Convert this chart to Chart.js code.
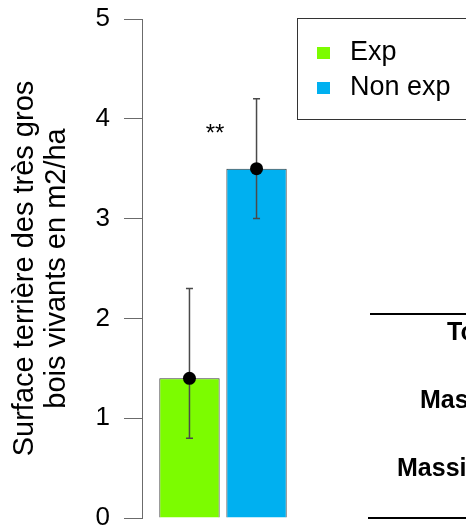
<!DOCTYPE html>
<html>
<head>
<meta charset="utf-8">
<script src="https://cdn.jsdelivr.net/npm/chart.js@4"></script>
<style>
body{margin:0;background:#fff}
</style>
</head>
<body>
<canvas id="graphique" width="466" height="528"></canvas>
<script>
// données : moyenne et intervalle par groupe
const groupes = ["Exp", "Non exp"];
const moyennes = [1.4, 3.5];
const basErreur = [0.8, 3.0];
const hautErreur = [2.3, 4.2];
const couleurs = ["#7CFC00", "#00B0F0"];
const graduations = [0, 1, 2, 3, 4, 5];
const titreAxe = ["Surface terrière des très gros", "bois vivants en m2/ha"];
const significativite = "**";
const lignesTableau = ["Tous", "Massif", "Massif"];

const police = "'Liberation Sans', Arial, sans-serif";

// barres d'erreur + points de moyenne + légende encadrée + début du tableau
const dessinsEnPlus = {
    id: "dessinsEnPlus",
    afterDatasetsDraw(chart) {
        const ctx = chart.ctx;
        const y = chart.scales.y;
        ctx.save();
        chart.data.datasets.forEach((ds, i) => {
            const barre = chart.getDatasetMeta(i).data[0];
            const x = barre.x;
            const yh = y.getPixelForValue(hautErreur[i]);
            const yb = y.getPixelForValue(basErreur[i]);
            ctx.strokeStyle = "#4a4a4a";
            ctx.lineWidth = 1.5;
            ctx.beginPath();
            ctx.moveTo(x, yh); ctx.lineTo(x, yb);
            ctx.moveTo(x - 3.5, yh); ctx.lineTo(x + 3.5, yh);
            ctx.moveTo(x - 3.5, yb); ctx.lineTo(x + 3.5, yb);
            ctx.stroke();
            ctx.fillStyle = "#000";
            ctx.beginPath();
            ctx.arc(x, y.getPixelForValue(moyennes[i]), 6.5, 0, Math.PI * 2);
            ctx.fill();
        });

        // étoiles de significativité
        const b0 = chart.getDatasetMeta(0).data[0];
        const b1 = chart.getDatasetMeta(1).data[0];
        ctx.fillStyle = "#000";
        ctx.font = "24px " + police;
        ctx.textAlign = "center";
        ctx.textBaseline = "alphabetic";
        ctx.fillText(significativite, (b0.x + b1.x) / 2 - 8, y.getPixelForValue(3.78));

        // légende
        ctx.strokeStyle = "#333";
        ctx.lineWidth = 1;
        ctx.strokeRect(297.5, 18.5, 200, 101);
        ctx.font = "27px " + police;
        ctx.textAlign = "left";
        ctx.textBaseline = "middle";
        chart.data.datasets.forEach((ds, i) => {
            const cy = 53 + i * 35;
            ctx.fillStyle = ds.backgroundColor;
            ctx.fillRect(317, cy - 6, 13, 12);
            ctx.fillStyle = "#000";
            ctx.fillText(ds.label, 350, cy);
        });

        // tableau à droite
        ctx.fillStyle = "#000";
        ctx.fillRect(370, 313, 100, 2);
        ctx.fillRect(368, 517, 100, 2);
        ctx.font = "bold 25px " + police;
        ctx.fillText(lignesTableau[0], 447, 333);
        ctx.fillText(lignesTableau[1], 420, 401);
        ctx.fillText(lignesTableau[2], 397, 469);
        ctx.restore();
    }
};

const jeux = groupes.map((g, i) => ({
    label: g,
    data: [moyennes[i]],
    backgroundColor: couleurs[i],
    borderColor: "#3c3c3c",
    borderWidth: 1,
    categoryPercentage: 0.828,
    barPercentage: 0.9
}));

new Chart(document.getElementById("graphique"), {
    type: "bar",
    data: { labels: [""], datasets: jeux },
    options: {
        responsive: false,
        devicePixelRatio: 1,
        animation: false,
        layout: { padding: { top: 19, bottom: 10, left: 0, right: 162 } },
        plugins: { legend: { display: false }, tooltip: { enabled: false } },
        scales: {
            x: { display: false },
            y: {
                min: 0,
                max: 5,
                afterBuildTicks(axe) {
                    axe.ticks = graduations.map(v => ({ value: v }));
                },
                afterFit(axe) {
                    axe.width = 142;
                    axe.paddingTop = 0;
                    axe.paddingBottom = 0;
                },
                border: { display: true, color: "#6b6b6b", width: 1 },
                grid: { drawOnChartArea: false, drawTicks: true, tickLength: 18, color: "#6b6b6b" },
                ticks: {
                    color: "#000",
                    padding: 14,
                    font: { family: police, size: 26, lineHeight: 0.8 }
                },
                title: {
                    display: true,
                    text: titreAxe,
                    color: "#000",
                    padding: { top: 9, bottom: 0 },
                    font: { family: police, size: 29, lineHeight: 32 / 29 }
                }
            }
        }
    },
    plugins: [dessinsEnPlus]
});
</script>
</body>
</html>
